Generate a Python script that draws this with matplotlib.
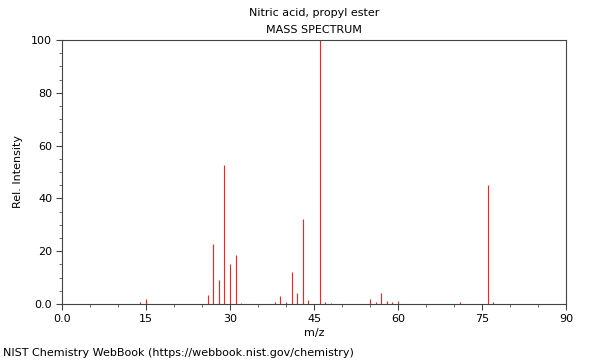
import matplotlib
matplotlib.use('Agg')
import matplotlib.pyplot as plt
from matplotlib.ticker import MultipleLocator, FuncFormatter

# m/z peaks and relative intensities
mz = [14, 15, 26, 27, 28, 29, 30, 31, 32,
      38, 39, 40, 41, 42, 43, 44, 46, 47, 48,
      55, 56, 57, 58, 59, 60, 71, 76, 77]
intensity = [0.6, 1.9, 3.3, 22.7, 9.2, 52.5, 15.2, 18.4, 0.3,
             0.6, 3.2, 0.8, 12.0, 4.0, 32.3, 1.6, 100.0, 0.6, 0.3,
             1.8, 0.6, 4.0, 1.0, 0.6, 1.3, 0.6, 45.2, 0.6]

title = 'Nitric acid, propyl ester'
subtitle = 'MASS SPECTRUM'
footer = 'NIST Chemistry WebBook (https://webbook.nist.gov/chemistry)'

fig = plt.figure(figsize=(6, 3.6), dpi=100)
ax = fig.add_axes([62 / 600, 1 - 304 / 360, 504 / 600, 264 / 360])

ax.vlines(mz, 0, intensity, colors='#ff2020', linewidth=0.8)

ax.set_xlim(0, 90)
ax.set_ylim(0, 100)
ax.xaxis.set_major_locator(MultipleLocator(15))
ax.xaxis.set_minor_locator(MultipleLocator(5))
ax.yaxis.set_major_locator(MultipleLocator(20))
ax.yaxis.set_minor_locator(MultipleLocator(5))

fmt = FuncFormatter(lambda v, p: '0.0' if v == 0 else '%d' % v)
ax.xaxis.set_major_formatter(fmt)
ax.yaxis.set_major_formatter(fmt)

ax.tick_params(which='major', length=4, width=0.8, labelsize=8, color='#444444', pad=3)
ax.tick_params(which='minor', length=2.5, width=0.6, color='#555555')
for s in ax.spines.values():
    s.set_color('#444444')
    s.set_linewidth(0.8)

ax.set_xlabel('m/z', fontsize=8, labelpad=3)
ax.set_ylabel('Rel. Intensity', fontsize=8, labelpad=6)

fig.text(314 / 600, 1 - 13 / 360, title, ha='center', va='center', fontsize=8)
fig.text(314 / 600, 1 - 30 / 360, subtitle, ha='center', va='center', fontsize=8)
fig.text(3 / 600, 1 - 353 / 360, footer, ha='left', va='center', fontsize=8)

fig.savefig('out.png', dpi=100)
